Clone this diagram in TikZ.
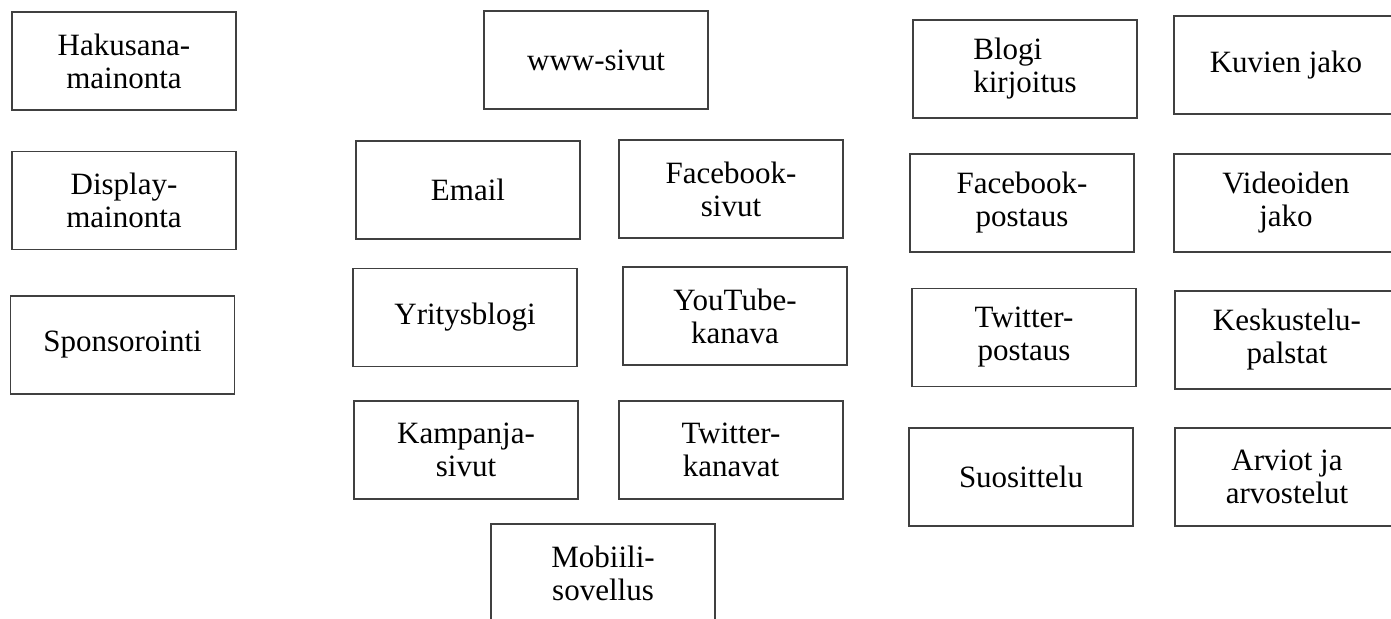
\documentclass[tikz,border=0pt]{standalone}
\usepackage{fontspec}
\setmainfont{Liberation Serif}
\usepackage{tikz}
\usetikzlibrary{positioning}
\definecolor{BoxLine}{gray}{0.25}

\begin{document}
\begin{tikzpicture}[
        x=0.5pt, y=-0.5pt,
        box/.style={
          rectangle,
          draw=BoxLine,
          line width=0.6pt,
          align=center,
          inner sep=0pt,
          minimum width=112pt,
          minimum height=49pt,
          font=\fontsize{15.5}{16.5}\selectfont
        }
      ]
        \useasboundingbox (0, 0) rectangle (1391, 619);

        % left column
        \node (hakusana) at (124, 61)    [box] {Hakusana-\\mainonta};
        \node (display)  at (124, 200.5) [box] {Display-\\mainonta};
        \node (sponsor)  at (122.5, 345) [box] {Sponsorointi};

        % middle column
        \node (www)      at (596, 60)    [box] {www-sivut};
        \node (email)    at (468, 190)   [box] {Email};
        \node (fbsivut)  at (731, 189)   [box] {Facebook-\\sivut};
        \node (yblogi)   at (465, 317.5) [box] {Yritysblogi};
        \node (youtube)  at (735, 316)   [box] {YouTube-\\kanava};
        \node (kampanja) at (466, 450)   [box] {Kampanja-\\sivut};
        \node (twkanava) at (731, 450)   [box] {Twitter-\\kanavat};
        \node (mobiili)  at (603, 573)   [box] {Mobiili-\\sovellus};

        % right columns
        \node (blogi)    at (1025, 69)   [box, align=left] {Blogi\\kirjoitus};
        \node (kuvat)    at (1286, 65)   [box] {Kuvien jako};
        \node (fbpost)   at (1022, 203)  [box] {Facebook-\\postaus};
        \node (videot)   at (1286, 203)  [box] {Videoiden\\jako};
        \node (twpost)   at (1024, 337.5) [box] {Twitter-\\postaus};
        \node (palstat)  at (1287, 340)  [box] {Keskustelu-\\palstat};
        \node (suositus) at (1021, 477)  [box] {Suosittelu};
        \node (arviot)   at (1287, 477)  [box] {Arviot ja\\arvostelut};
      \end{tikzpicture}
\end{document}
